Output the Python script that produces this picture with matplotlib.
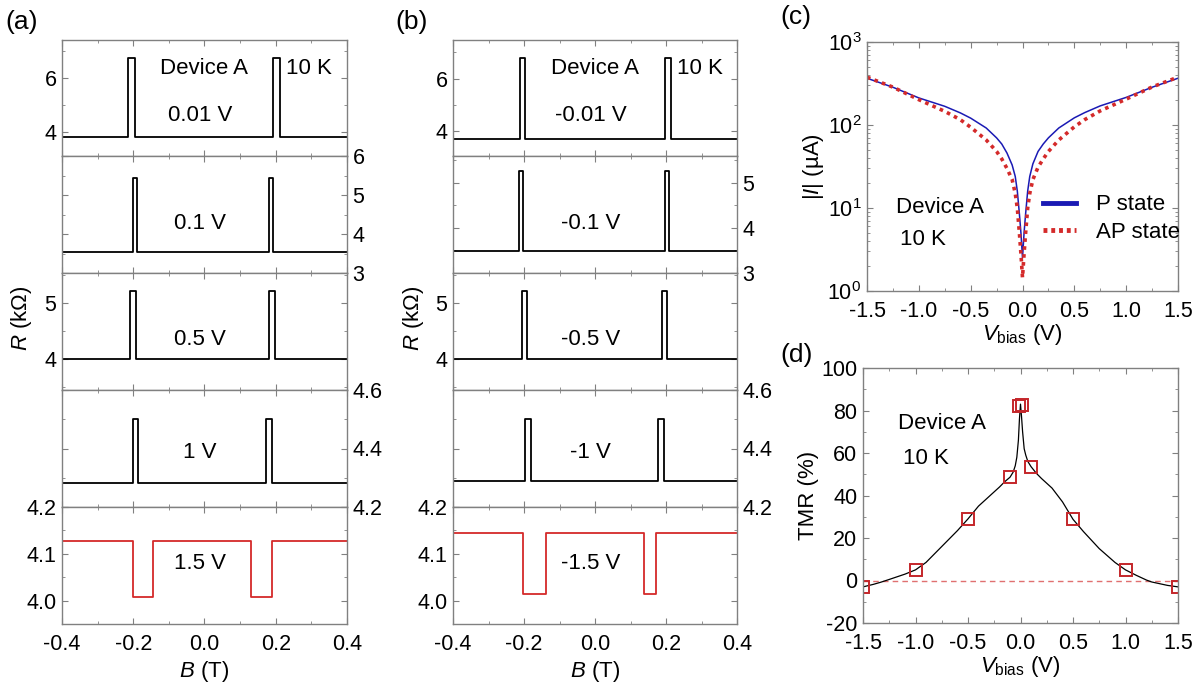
import matplotlib
matplotlib.use("Agg")
import matplotlib.pyplot as plt
from matplotlib.lines import Line2D
from matplotlib.ticker import FormatStrFormatter, LogLocator, NullFormatter

plt.rcParams["font.family"] = ["Liberation Sans", "DejaVu Sans"]
plt.rcParams["mathtext.fontset"] = "custom"
plt.rcParams["mathtext.rm"] = "Liberation Sans"
plt.rcParams["mathtext.it"] = "Liberation Sans:italic"
plt.rcParams["axes.unicode_minus"] = False

# ---- data: (a) positive bias R(B) loops ----
a_labels = ["0.01 V", "0.1 V", "0.5 V", "1 V", "1.5 V"]
a_base = [3.80, 3.54, 4.00, 4.282, 4.128]
a_high = [6.75, 5.44, 5.21, 4.50, 4.008]
a_sw_neg = [(-0.215, -0.195), (-0.202, -0.190), (-0.209, -0.193), (-0.200, -0.188), (-0.200, -0.145)]
a_sw_pos = [(0.193, 0.212), (0.180, 0.191), (0.181, 0.198), (0.174, 0.190), (0.130, 0.190)]

# ---- data: (b) negative bias R(B) loops ----
b_labels = ["-0.01 V", "-0.1 V", "-0.5 V", "-1 V", "-1.5 V"]
b_base = [3.72, 3.48, 4.00, 4.29, 4.145]
b_high = [6.80, 5.27, 5.21, 4.50, 4.015]
b_sw_neg = [(-0.211, -0.196), (-0.213, -0.202), (-0.206, -0.191), (-0.197, -0.181), (-0.202, -0.139)]
b_sw_pos = [(0.197, 0.213), (0.197, 0.209), (0.188, 0.204), (0.177, 0.194), (0.139, 0.172)]

# y ranges / ticks of the stacked sub-panels
a_ylims = [(3.1, 7.42), (3.0, 6.0), (3.45, 5.54), (4.2, 4.6), (3.95, 4.2)]
b_ylims = [(3.06, 7.47), (3.0, 5.6), (3.45, 5.54), (4.2, 4.6), (3.95, 4.2)]
a_yticks = [[4, 6], [3, 4, 5, 6], [4, 5], [4.2, 4.4, 4.6], [4.0, 4.1, 4.2]]
b_yticks = [[4, 6], [3, 4, 5], [4, 5], [4.2, 4.4, 4.6], [4.0, 4.1, 4.2]]
yminor = [[5, 7], [3.5, 4.5, 5.5], [3.5, 4.5, 5.5], [4.3, 4.5], [4.05, 4.15]]
yfmt = ["%d", "%d", "%d", "%.1f", "%.1f"]

# ---- data: (c) I-V curves ----
v_iv = [-1.5, -1.25, -1.0, -0.75, -0.6, -0.5, -0.35, -0.25, -0.2, -0.15, -0.1, -0.07, -0.05,
        -0.03, -0.015, 0.0, 0.015, 0.03, 0.05, 0.07, 0.1, 0.15, 0.2, 0.25, 0.35, 0.5, 0.6,
        0.75, 1.0, 1.25, 1.5]
i_p = [366, 285, 212, 168, 140, 121, 92, 70, 59, 46, 33, 24, 16,
       8.5, 5.0, 2.5, 5.0, 8.5, 16, 24, 34, 48, 59, 70, 92, 122, 141,
       170, 215, 285, 366]
i_ap = [377, 286, 202, 146, 116, 94, 66, 48, 39, 30, 22, 15, 10,
        5.0, 2.8, 1.45, 2.8, 5.0, 10, 15, 22, 31, 39, 48, 66, 95, 116,
        148, 205, 287, 377]

# ---- data: (d) TMR vs bias ----
v_tmr = [-1.5, -1.0, -0.5, -0.1, -0.01, 0.01, 0.1, 0.5, 1.0, 1.5]
tmr = [-3.0, 5.0, 28.8, 48.6, 82.2, 82.7, 53.6, 28.8, 5.0, -3.0]
v_fit = [-1.5, -1.4, -1.33, -1.25, -1.1, -1.0, -0.9, -0.75, -0.6, -0.5, -0.4, -0.3, -0.2,
         -0.15, -0.1, -0.07, -0.05, -0.035, -0.02, -0.01, 0.0, 0.01, 0.02, 0.035, 0.05,
         0.07, 0.1, 0.15, 0.2, 0.3, 0.4, 0.5, 0.6, 0.75, 0.9, 1.0, 1.1, 1.2, 1.25, 1.4, 1.5]
tmr_fit = [-3.0, -1.8, -0.8, 0.5, 3.0, 5.0, 8.5, 16.0, 23.5, 29.0, 35.0, 39.5, 44.0,
           46.5, 48.6, 51.0, 54.0, 58.0, 66.0, 76.0, 83.0, 77.0, 70.0, 62.0, 59.0,
           56.0, 53.6, 50.5, 48.0, 43.5, 37.0, 28.8, 23.0, 15.0, 8.5, 5.0, 2.5, 0.2, -0.7, -2.3, -3.0]

W, H = 1204, 689
GREY = "#808080"
RED = "#d42a2a"
BLUE = "#1a1ab4"
TICK_FS = 15.5
TEXT_FS = 16


def rect(x0, y0, x1, y1):
    return [x0 / W, 1 - y1 / H, (x1 - x0) / W, (y1 - y0) / H]


def style_axes(ax):
    for s in ax.spines.values():
        s.set_color(GREY)
        s.set_linewidth(1.0)
    ax.tick_params(which="both", direction="in", top=True, right=True,
                   color=GREY, labelsize=TICK_FS, pad=4)
    ax.tick_params(which="major", length=4)
    ax.tick_params(which="minor", length=2.5)


def loop_path(base, high, sw1, sw2):
    B = [-0.4, sw1[0], sw1[0], sw1[1], sw1[1], sw2[0], sw2[0], sw2[1], sw2[1], 0.4]
    R = [base, base, high, high, base, base, high, high, base, base]
    return B, R


fig = plt.figure(figsize=(W / 100, H / 100), dpi=100)

sub_y = [40, 156, 273, 390, 507, 624]
panels = [
    (62, 347, a_labels, a_base, a_high, a_sw_neg, a_sw_pos, a_ylims, a_yticks, "(a)", 5),
    (453, 737, b_labels, b_base, b_high, b_sw_neg, b_sw_pos, b_ylims, b_yticks, "(b)", 395),
]
for (x0, x1, labels, base, high, swn, swp, ylims, yticks, tag, tagx) in panels:
    for k in range(5):
        ax = fig.add_axes(rect(x0, sub_y[k], x1, sub_y[k + 1]))
        B, R = loop_path(base[k], high[k], swn[k], swp[k])
        ax.plot(B, R, color=RED if k == 4 else "black", lw=1.3)
        ax.set_xlim(-0.4, 0.4)
        ax.set_ylim(*ylims[k])
        style_axes(ax)
        ax.set_xticks([-0.4, -0.2, 0.0, 0.2, 0.4])
        ax.set_xticks([-0.3, -0.1, 0.1, 0.3], minor=True)
        ax.set_yticks(yticks[k])
        ax.set_yticks(yminor[k], minor=True)
        ax.yaxis.set_major_formatter(FormatStrFormatter(yfmt[k]))
        ax.xaxis.set_major_formatter(FormatStrFormatter("%.1f"))
        if k in (1, 3):
            ax.tick_params(axis="y", which="both", labelleft=False, labelright=True)
        if k < 4:
            ax.tick_params(axis="x", labelbottom=False)
        else:
            ax.tick_params(axis="x", pad=7)
        yt = [0.35, 0.42, 0.43, 0.47, 0.52][k]
        ax.text(0.485, yt, labels[k], transform=ax.transAxes, ha="center",
                va="center", fontsize=TEXT_FS)
        if k == 0:
            ax.text(0.50, 0.75, "Device A", transform=ax.transAxes, ha="center",
                    va="center", fontsize=TEXT_FS)
            ax.text(0.868, 0.75, "10 K", transform=ax.transAxes, ha="center",
                    va="center", fontsize=TEXT_FS)
    xc = (x0 + x1) / 2
    fig.text(xc / W, 1 - 672 / H, r"$B$ (T)", ha="center", va="center", fontsize=TEXT_FS)
    fig.text((x0 - 40) / W, 1 - 318 / H, r"$R$ (k$\Omega$)", rotation=90,
             ha="center", va="center", fontsize=TEXT_FS)
    fig.text(tagx / W, 1 - 22 / H, tag, ha="left", va="center", fontsize=19)

# ---- (c) I-V ----
axc = fig.add_axes(rect(867, 42, 1178, 291))
axc.plot(v_iv, i_p, color=BLUE, lw=1.1)
axc.plot(v_iv, i_ap, color=RED, lw=2.6, ls=(0, (1, 1.2)))
axc.set_yscale("log")
axc.set_xlim(-1.5, 1.5)
axc.set_ylim(1, 1000)
style_axes(axc)
axc.tick_params(axis="x", pad=7)
axc.set_xticks([-1.5, -1.0, -0.5, 0.0, 0.5, 1.0, 1.5])
axc.set_xticks([-1.25, -0.75, -0.25, 0.25, 0.75, 1.25], minor=True)
axc.xaxis.set_major_formatter(FormatStrFormatter("%.1f"))
axc.yaxis.set_minor_locator(LogLocator(base=10, subs=range(2, 10)))
axc.yaxis.set_minor_formatter(NullFormatter())
axc.set_ylabel(r"|$I$| (µA)", fontsize=TEXT_FS, labelpad=1)
axc.set_xlabel(r"$V_{\rm bias}$ (V)", fontsize=TEXT_FS, labelpad=0)
axc.text(0.093, 0.337, "Device A", transform=axc.transAxes, va="center", fontsize=TEXT_FS)
axc.text(0.18, 0.205, "10 K", transform=axc.transAxes, ha="center", va="center", fontsize=TEXT_FS)
handles = [Line2D([], [], color=BLUE, lw=3.5),
           Line2D([], [], color=RED, lw=3.5, ls=(0, (0.8, 0.8)))]
axc.legend(handles, ["P state", "AP state"], loc="center left",
           bbox_to_anchor=(0.5, 0.29), frameon=False, fontsize=TEXT_FS,
           handlelength=1.5, handletextpad=0.9, labelspacing=0.3)
fig.text(780 / W, 1 - 17 / H, "(c)", ha="left", va="center", fontsize=19)

# ---- (d) TMR ----
axd = fig.add_axes(rect(863, 368, 1178, 623))
axd.axhline(0, color="#e07070", lw=1.0, ls=(0, (4, 3)))
axd.plot(v_fit, tmr_fit, color="black", lw=0.9)
axd.plot(v_tmr, tmr, ls="none", marker="s", ms=9, mfc="none", mec="#c4262a", mew=1.4)
axd.set_xlim(-1.5, 1.5)
axd.set_ylim(-20, 100)
style_axes(axd)
axd.tick_params(axis="x", pad=7)
axd.set_xticks([-1.5, -1.0, -0.5, 0.0, 0.5, 1.0, 1.5])
axd.set_xticks([-1.25, -0.75, -0.25, 0.25, 0.75, 1.25], minor=True)
axd.xaxis.set_major_formatter(FormatStrFormatter("%.1f"))
axd.set_yticks([-20, 0, 20, 40, 60, 80, 100])
axd.set_yticks([-10, 10, 30, 50, 70, 90], minor=True)
axd.set_ylabel("TMR (%)", fontsize=TEXT_FS, labelpad=2)
axd.set_xlabel(r"$V_{\rm bias}$ (V)", fontsize=TEXT_FS, labelpad=0)
axd.text(0.25, 0.784, "Device A", transform=axd.transAxes, ha="center", va="center", fontsize=TEXT_FS)
axd.text(0.20, 0.647, "10 K", transform=axd.transAxes, ha="center", va="center", fontsize=TEXT_FS)
fig.text(780 / W, 1 - 355 / H, "(d)", ha="left", va="center", fontsize=19)

fig.savefig("out.png", dpi=100)
plt.close(fig)
